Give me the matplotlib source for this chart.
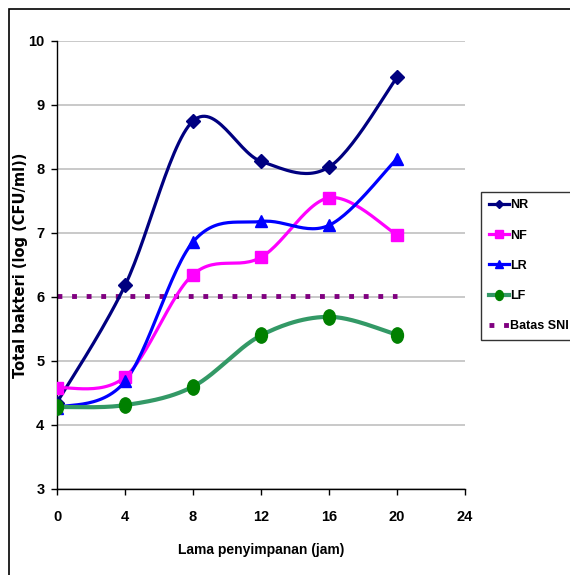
import numpy as np
import matplotlib
matplotlib.use("Agg")
import matplotlib.pyplot as plt
from matplotlib.path import Path
from matplotlib.transforms import Affine2D
from matplotlib.patches import Rectangle

# data
jam = [0, 4, 8, 12, 16, 20]
nr = [4.35, 6.18, 8.75, 8.12, 8.03, 9.43]
nf = [4.58, 4.75, 6.35, 6.62, 7.55, 6.97]
lr = [4.27, 4.68, 6.86, 7.18, 7.12, 8.16]
lf = [4.28, 4.31, 4.60, 5.40, 5.69, 5.41]
batas_sni = [6.02] * len(jam)
x_ticks = [0, 4, 8, 12, 16, 20, 24]
y_ticks = [3, 4, 5, 6, 7, 8, 9, 10]

font = ['Liberation Sans', 'DejaVu Sans']


def smooth(xs, ys, n=30):
    # excel-like smoothed line (bezier, tangents from neighbours)
    p = np.column_stack([xs, ys]).astype(float)
    pts = []
    for i in range(len(p) - 1):
        p0 = p[i - 1] if i > 0 else p[i]
        p3 = p[i + 2] if i + 2 < len(p) else p[i + 1]
        c1 = p[i] + (p[i + 1] - p0) / 6.0
        c2 = p[i + 1] - (p3 - p[i]) / 6.0
        t = np.linspace(0, 1, n)[:, None]
        seg = ((1 - t) ** 3) * p[i] + 3 * ((1 - t) ** 2) * t * c1 \
            + 3 * (1 - t) * t ** 2 * c2 + t ** 3 * p[i + 1]
        pts.append(seg if i == 0 else seg[1:])
    pts = np.vstack(pts)
    return pts[:, 0], pts[:, 1]


ellipse = Path.unit_circle().transformed(Affine2D().scale(0.78, 1.0))

series = [
    ("NR", nr, '#000080', '#000080', 'D', 7, 2.3),
    ("NF", nf, '#FF00FF', '#FF00FF', 's', 9, 2.3),
    ("LR", lr, '#0000FF', '#0000FF', '^', 9, 2.3),
    ("LF", lf, '#339966', '#008000', ellipse, 11, 3.0),
]

fig = plt.figure(figsize=(5.7, 5.75), dpi=100)
ax = fig.add_axes([0.1, 0.1496, 0.7158, 0.7791])

handles = []
for name, ys, lc, mc, mk, ms, lw in series:
    sx, sy = smooth(jam, ys)
    ax.plot(sx, sy, color=lc, lw=lw, zorder=3)
    ax.plot(jam, ys, ls='none', marker=mk, ms=ms, color=mc, zorder=4)
    h, = ax.plot([], [], color=lc, lw=lw, marker=mk, ms=ms * 0.65,
                 mfc=mc, mec=mc, label=name)
    handles.append(h)

h, = ax.plot(jam, batas_sni, color='#800080', lw=3.5,
             ls=(0, (1, 2)), dash_capstyle='butt', zorder=2, label='Batas SNI')
handles.append(h)

ax.set_xlim(0, 24)
ax.set_ylim(3, 10)
ax.set_xticks(x_ticks)
ax.set_yticks(y_ticks)
ax.grid(axis='y', color='#c0c0c0', lw=1.2)
ax.set_axisbelow(True)
for s in ['top', 'right']:
    ax.spines[s].set_visible(False)
for s in ['left', 'bottom']:
    ax.spines[s].set_color('black')
    ax.spines[s].set_linewidth(1.0)
ax.tick_params(direction='out', length=4, width=1)
ax.tick_params(axis='x', pad=11)
ax.tick_params(axis='y', pad=5)
for lab in ax.get_xticklabels() + ax.get_yticklabels():
    lab.set_family(font)
    lab.set_fontweight('bold')
    lab.set_fontsize(10.5)

ax.set_xlabel('Lama penyimpanan (jam)', family=font, fontweight='bold',
              fontsize=10, labelpad=14)
ax.set_ylabel('Total bakteri (log (CFU/ml))', family='DejaVu Sans',
              fontweight='bold', fontsize=10.5)
ax.yaxis.set_label_coords(-0.071, 0.5)

leg = fig.legend(handles=handles, loc='upper left',
                 bbox_to_anchor=(481 / 570, 1 - 192 / 575),
                 frameon=True, fancybox=False, edgecolor='black',
                 prop={'family': font, 'weight': 'bold', 'size': 9},
                 handlelength=1.6, handletextpad=0.1, labelspacing=1.45,
                 borderpad=0.6, borderaxespad=0)
leg.get_frame().set_linewidth(1.0)

fig.patches.append(Rectangle((9 / 570, -0.1), 1.2, 1.1 - 9 / 575,
                             transform=fig.transFigure, fill=False,
                             edgecolor='black', lw=1.2))

fig.savefig('out.png', dpi=100)
